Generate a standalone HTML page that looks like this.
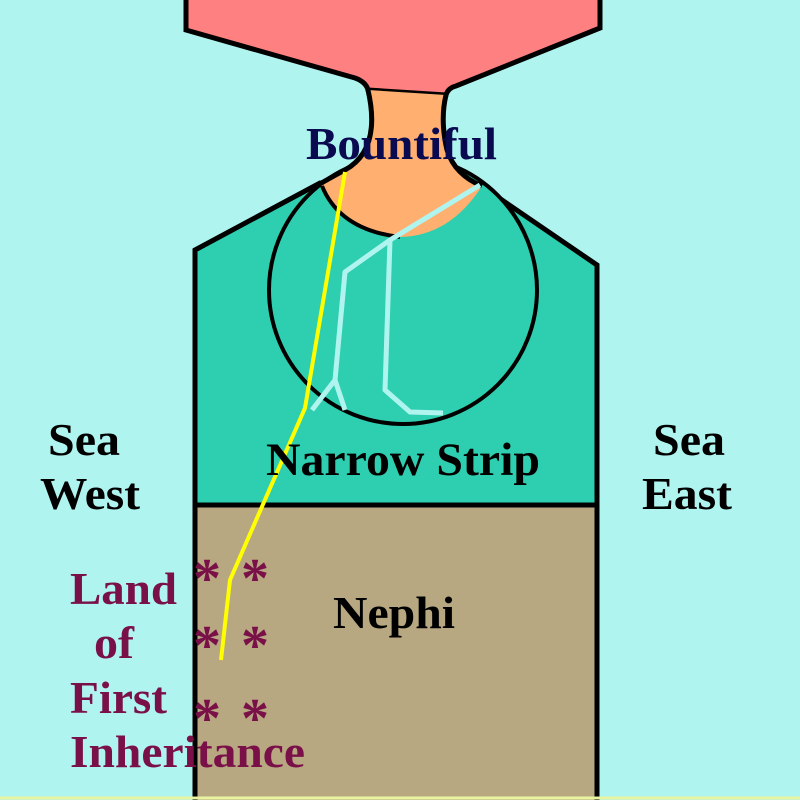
<!DOCTYPE html>
<html><head><meta charset="utf-8"><style>
html,body{margin:0;padding:0;background:#b0f4f0;}
svg{display:block}
text{font-family:"Liberation Serif",serif;font-weight:bold;}
</style></head><body>
<svg width="800" height="800" viewBox="0 0 800 800" xmlns="http://www.w3.org/2000/svg">
<rect width="800" height="800" fill="#b0f4f0"/>
<path d="M186,-5 L186,30 L355,78 Q366,82 368,90 L446,95 Q448,88 456,86 L600,28 L600,-5 Z" fill="#ff8080" stroke="#000" stroke-width="5"/>
<path d="M195,800 L195,250 L320,183 L480,185 L597,265 L597,800 Z" fill="#2ecfb0" stroke="#000" stroke-width="5"/>
<circle cx="403" cy="290" r="134" fill="#2ecfb0" stroke="#000" stroke-width="4"/>
<path d="M368,90 C376,125 372,155 345,170 Q330,178 318,185 L322,186 Q340,230 400,237 Q450,236 482,186 Q455,175 447,150 Q440,120 446,95 Z" fill="#ffb070"/>
<path d="M368,90 C376,125 372,155 345,170 Q330,178 318,185" fill="none" stroke="#000" stroke-width="5"/>
<path d="M446,95 Q440,120 447,150 Q455,175 482,186" fill="none" stroke="#000" stroke-width="5"/>
<path d="M322,186 Q340,230 400,237" fill="none" stroke="#000" stroke-width="4"/>
<rect x="195" y="505" width="402" height="300" fill="#b8a882" stroke="#000" stroke-width="5"/>
<line x1="0" y1="798" x2="800" y2="798" stroke="#e8f4a0" stroke-width="3"/>
<g fill="none" stroke="#b0f4f0" stroke-width="5" stroke-linejoin="round">
<polyline points="480,185 390,240 345,272 335,380 312,410"/>
<polyline points="335,380 345,410"/>
<polyline points="390,240 385,390 410,412 443,413"/>
</g>
<polyline points="345,172 305,408 230,580 221,660" fill="none" stroke="#ffff00" stroke-width="4"/>
<text x="306" y="159" font-size="46" fill="#0a0a50" textLength="191" lengthAdjust="spacingAndGlyphs">Bountiful</text>
<text x="266" y="475" font-size="47" fill="#000" textLength="274" lengthAdjust="spacingAndGlyphs">Narrow Strip</text>
<text x="48" y="455" font-size="46" fill="#000" textLength="72" lengthAdjust="spacingAndGlyphs">Sea</text>
<text x="40" y="509" font-size="46" fill="#000" textLength="100" lengthAdjust="spacingAndGlyphs">West</text>
<text x="653" y="455" font-size="46" fill="#000" textLength="72" lengthAdjust="spacingAndGlyphs">Sea</text>
<text x="642" y="509" font-size="46" fill="#000" textLength="90" lengthAdjust="spacingAndGlyphs">East</text>
<text x="333" y="628" font-size="46" fill="#000" textLength="122" lengthAdjust="spacingAndGlyphs">Nephi</text>
<g font-size="46" fill="#7a1048">
<text x="70" y="604" textLength="107" lengthAdjust="spacingAndGlyphs">Land</text>
<text x="94" y="658" textLength="40" lengthAdjust="spacingAndGlyphs">of</text>
<text x="70" y="713" textLength="97" lengthAdjust="spacingAndGlyphs">First</text>
<text x="70" y="767" textLength="235" lengthAdjust="spacingAndGlyphs">Inheritance</text>
</g>
<g font-size="56" fill="#7a1048" text-anchor="middle">
<text x="207" y="597">*</text><text x="255" y="597">*</text>
<text x="207" y="664">*</text><text x="255" y="664">*</text>
<text x="207" y="737">*</text><text x="255" y="737">*</text>
</g>
</svg>
</body></html>
